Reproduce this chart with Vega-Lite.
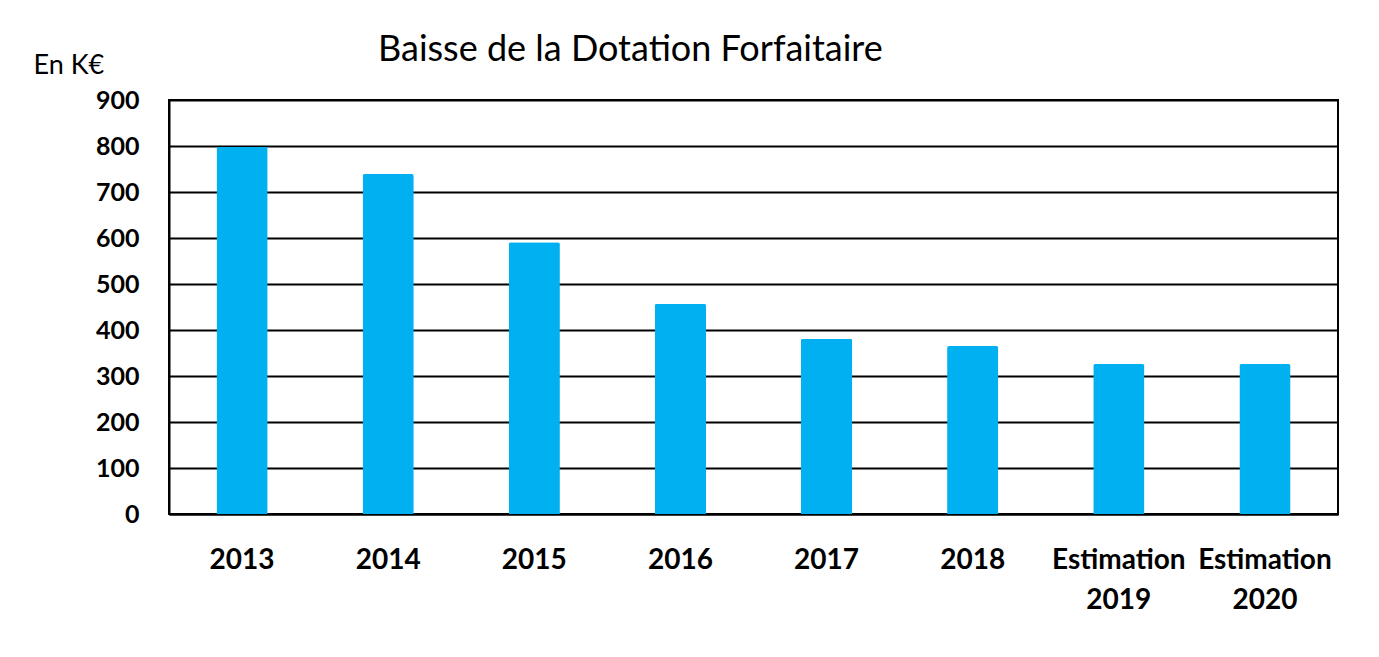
{
  "$schema": "https://vega.github.io/schema/vega-lite/v6.json",
  "autosize": "none",
  "width": 1169,
  "height": 414,
  "padding": {"left": 169, "top": 100, "right": 41, "bottom": 143},
  "background": "white",
  "title": {
    "text": "Baisse de la Dotation Forfaitaire",
    "anchor": "start",
    "frame": "group",
    "dx": 209,
    "offset": -18,
    "font": "Lato",
    "fontSize": 36,
    "fontWeight": "normal",
    "color": "black"
  },
  "data": {
    "values": [
      {"annee": "2013", "valeur": 798},
      {"annee": "2014", "valeur": 739},
      {"annee": "2015", "valeur": 591},
      {"annee": "2016", "valeur": 457},
      {"annee": "2017", "valeur": 381},
      {"annee": "2018", "valeur": 365},
      {"annee": "Estimation 2019", "valeur": 326},
      {"annee": "Estimation 2020", "valeur": 326}
    ]
  },
  "mark": {"type": "bar", "color": "#00B0F0", "cornerRadiusTopLeft": 2, "cornerRadiusTopRight": 2},
  "encoding": {
    "x": {
      "field": "annee",
      "type": "nominal",
      "sort": null,
      "scale": {"paddingInner": 0.65, "paddingOuter": 0.325},
      "axis": {
        "title": null,
        "labelAngle": 0,
        "labelExpr": "split(datum.label, ' ')",
        "labelFont": "Lato",
        "labelFontSize": 28,
        "labelFontWeight": "bold",
        "labelColor": "black",
        "labelLineHeight": 40,
        "labelPadding": 32,
        "ticks": false,
        "domainColor": "black",
        "domainWidth": 2
      }
    },
    "y": {
      "field": "valeur",
      "type": "quantitative",
      "scale": {"domain": [0, 900], "nice": false},
      "axis": {
        "values": [0, 100, 200, 300, 400, 500, 600, 700, 800, 900],
        "title": "En K€",
        "titleAngle": 0,
        "titleAlign": "left",
        "titleBaseline": "alphabetic",
        "titleX": -136,
        "titleY": -27,
        "titleFont": "Lato",
        "titleFontSize": 27,
        "titleFontWeight": "normal",
        "titleColor": "black",
        "labelFont": "Lato",
        "labelFontSize": 25,
        "labelFontWeight": "bold",
        "labelColor": "black",
        "labelPadding": 30,
        "ticks": false,
        "grid": true,
        "gridColor": "black",
        "gridWidth": 2,
        "domainColor": "black",
        "domainWidth": 2
      }
    }
  },
  "config": {
    "view": {"stroke": "black", "strokeWidth": 2}
  }
}
